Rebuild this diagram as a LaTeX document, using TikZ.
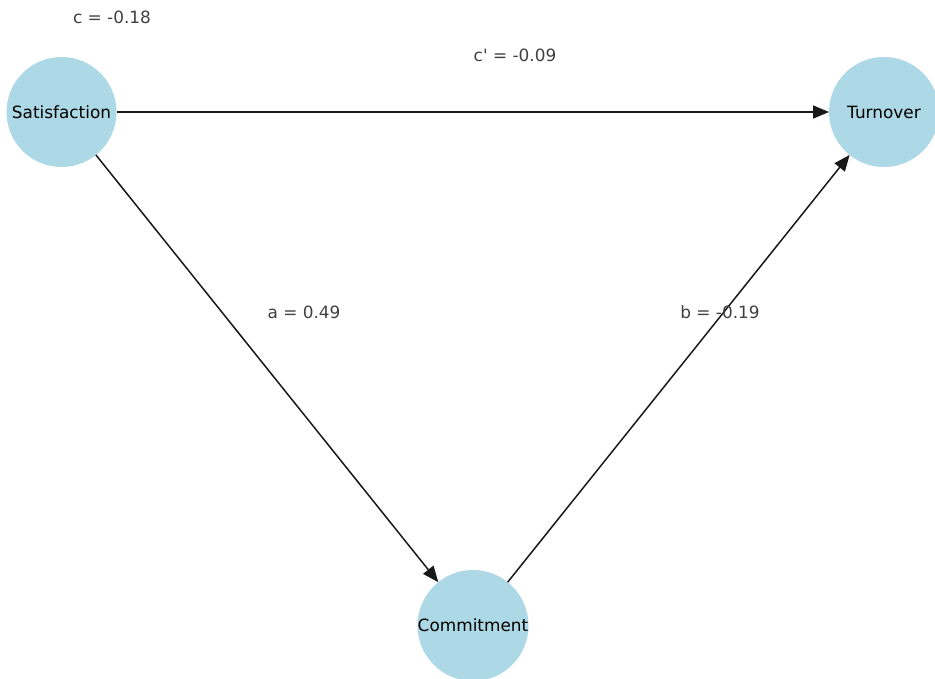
\documentclass[tikz,border=0pt]{standalone}
\usepackage{fontspec}
\newfontfamily\dvs{DejaVu Sans}
\usetikzlibrary{arrows.meta}
\definecolor{nodeblue}{HTML}{ADD8E6}
\definecolor{labgray}{HTML}{404040}
\tikzset{
  var/.style={circle, fill=nodeblue, minimum size=110pt, inner sep=0pt, outer sep=0pt, font=\dvs\fontsize{16.9}{20}\selectfont, text=black},
  path/.style={line width=1.5pt, draw=black!90, -{Triangle[length=16pt, width=13pt]}},
  coef/.style={font=\dvs\fontsize{16.9}{20}\selectfont, text=labgray}
}
\begin{document}
\begin{tikzpicture}[x=1pt,y=-1pt]
\useasboundingbox (0,0) rectangle (935,678);
\clip (0,0) rectangle (935,678);
\fill[white] (0,0) rectangle (935,678);
\node[var] (sat) at (61.5,112) {Satisfaction};
\node[var] (tur) at (884,112) {Turnover};
\node[var] (com) at (473,625.5) {Commitment};
\draw[path] (sat) -- (tur);
\draw[path] (sat) -- (com);
\draw[path] (com) -- (tur);
\node[coef] (lc) at (112,17) {c = -0.18};
\node[coef] (lcp) at (515,55) {c' = -0.09};
\node[coef] (la) at (304,312) {a = 0.49};
\node[coef] (lb) at (720,312) {b = -0.19};
\end{tikzpicture}
\end{document}
